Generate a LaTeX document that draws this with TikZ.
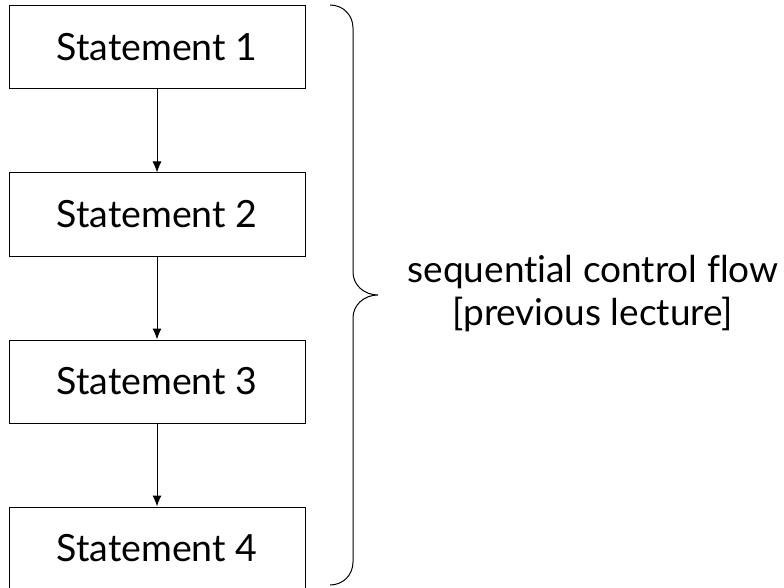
\documentclass[tikz,border=0pt]{standalone}
\usepackage{fontspec}
\setmainfont{Lato}[Ligatures=NoCommon]
\usetikzlibrary{positioning, arrows.meta}

\begin{document}
\begin{tikzpicture}[x=1pt, y=-1pt,
    stmtbox/.style={draw, line width=1pt, minimum width=296pt, minimum height=83pt,
      inner sep=0pt, font=\fontsize{37.5}{43}\selectfont},
    flow/.style={-{Latex[length=11pt, width=9pt]}, line width=1pt}]
    \useasboundingbox (0,0) rectangle (784,588);
    % statements
    \node[stmtbox] (s1) at (157,47.5) {Statement 1};
    \node[stmtbox, below=83pt of s1] (s2) {Statement 2};
    \node[stmtbox, below=83pt of s2] (s3) {Statement 3};
    \node[stmtbox, below=83pt of s3] (s4) {Statement 4};
    \draw[flow] (s1) -- (s2);
    \draw[flow] (s2) -- (s3);
    \draw[flow] (s3) -- (s4);
    % brace
    \coordinate (btop) at (330,5);
    \coordinate (tip) at (378,295);
    \coordinate (bbot) at (330,585);
    \draw[line width=1pt] (btop) .. controls (343,5) and (353,15) .. (353,28) -- (353,272)
      .. controls (353,285) and (364,295) .. (tip)
      .. controls (364,295) and (353,305) .. (353,318) -- (353,562)
      .. controls (353,575) and (343,585) .. (bbot);
    \node[align=center, font=\fontsize{37}{43}\selectfont] (lbl) at (593,294)
      {sequential control flow\\\relax [previous lecture]};
\end{tikzpicture}
\end{document}
